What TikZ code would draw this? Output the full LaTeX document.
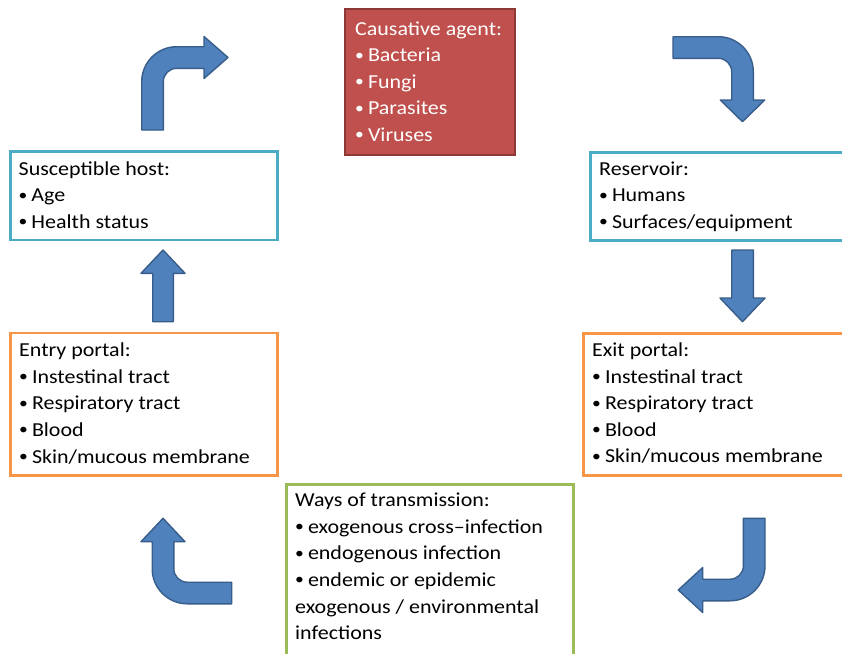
\documentclass[tikz,border=0pt]{standalone}
\usepackage{graphicx}
\usepackage{fontspec}
\setmainfont{Carlito}[FakeStretch=1.11]
\definecolor{arrowfill}{HTML}{4F81BD}
\definecolor{arrowline}{HTML}{385D8A}
\definecolor{blueline}{HTML}{4BACC6}
\definecolor{orangeline}{HTML}{F79646}
\definecolor{greenline}{HTML}{9BBB59}
\definecolor{redfill}{HTML}{C0504D}
\definecolor{redline}{HTML}{8C3836}
\newcommand{\bul}{\makebox[12.8pt][l]{\raisebox{1.6pt}{\scalebox{0.8}{•}}}}
\begin{document}
\begin{tikzpicture}[x=1pt,y=-1pt,
  box/.style={draw, line width=2.5pt, inner sep=0pt, anchor=north west},
  txt/.style={anchor=base west, inner sep=0pt, font=\fontsize{19.8}{26.6}\selectfont},
  blockarrow/.style={fill=arrowfill, draw=arrowline, line width=1.4pt, line join=round}]
\useasboundingbox (0,0) rectangle (842,653);
\clip (0,0) rectangle (842,653);
\fill[white] (0,0) rectangle (842,653);

% boxes
\node[box, fill=redfill, draw=redline, line width=2pt, minimum width=170pt, minimum height=146pt] (agent) at (344,8) {};
\node[box, draw=blueline, minimum width=267pt, minimum height=88.5pt] (host) at (9,150) {};
\node[box, draw=blueline, minimum width=270pt, minimum height=88pt] (reservoir) at (589,151) {};
\node[box, draw=orangeline, minimum width=267pt, minimum height=142.5pt] (entry) at (9,331.5) {};
\node[box, draw=orangeline, minimum width=270pt, minimum height=142pt] (exit) at (582,332) {};
\node[box, draw=greenline, minimum width=287pt, minimum height=190pt] (ways) at (285,483) {};

% texts
\node[txt, text=white] (agentt) at (355,35) {\begin{tabular}[t]{@{}l@{}}Causative agent:\\\bul Bacteria\\\bul Fungi\\\bul Parasites\\\bul Viruses\end{tabular}};
\node[txt] (hostt) at (18.5,175) {\begin{tabular}[t]{@{}l@{}}Susceptible host:\\\bul Age\\\bul Health status\end{tabular}};
\node[txt] (reservoirt) at (599,175) {\begin{tabular}[t]{@{}l@{}}Reservoir:\\\bul Humans\\\bul Surfaces/equipment\end{tabular}};
\node[txt] (entryt) at (19,356.7) {\begin{tabular}[t]{@{}l@{}}Entry portal:\\\bul Instestinal tract\\\bul Respiratory tract\\\bul Blood\\\bul Skin/mucous membrane\end{tabular}};
\node[txt] (exitt) at (592,356.5) {\begin{tabular}[t]{@{}l@{}}Exit portal:\\\bul Instestinal tract\\\bul Respiratory tract\\\bul Blood\\\bul Skin/mucous membrane\end{tabular}};
\node[txt] (wayst) at (295,506.7) {\begin{tabular}[t]{@{}l@{}}Ways of transmission:\\\bul exogenous cross–infection\\\bul endogenous infection\\\bul endemic or epidemic\\exogenous / environmental\\infections\end{tabular}};

% block arrows
\draw[blockarrow] (141.7,130) -- (141.7,81.7) arc[start angle=180,end angle=270,radius=35] -- (204,46.7) -- (204,36.5) -- (228,57.5) -- (204,78.5) -- (204,68.3) -- (176.7,68.3) arc[start angle=270,end angle=180,radius=13.4] -- (163.3,130) -- cycle;
\draw[blockarrow] (673,36.7) -- (718.3,36.7) arc[start angle=-90,end angle=0,radius=35] -- (753.3,100) -- (764.7,100) -- (742.5,121.7) -- (720.3,100) -- (731.7,100) -- (731.7,71.7) arc[start angle=0,end angle=-90,radius=13.4] -- (673,58.3) -- cycle;
\draw[blockarrow] (731.7,250) -- (753.3,250) -- (753.3,298) -- (765,298) -- (742.5,321.7) -- (720,298) -- (731.7,298) -- cycle;
\draw[blockarrow] (743.3,518.3) -- (765,518.3) -- (765,565.8) arc[start angle=0,end angle=90,radius=35] -- (702.7,600.8) -- (702.7,612.5) -- (678.3,590) -- (702.7,567.5) -- (702.7,579.2) -- (730,579.2) arc[start angle=90,end angle=0,radius=13.4] -- cycle;
\draw[blockarrow] (231.7,603.8) -- (187.2,603.8) arc[start angle=90,end angle=180,radius=35] -- (152.2,541.7) -- (141,541.7) -- (163,518.3) -- (185,541.7) -- (173.8,541.7) -- (173.8,568.8) arc[start angle=180,end angle=90,radius=13.4] -- (231.7,582.2) -- cycle;
\draw[blockarrow] (152.7,321.7) -- (152.7,273.3) -- (141,273.3) -- (163,250) -- (185,273.3) -- (173.3,273.3) -- (173.3,321.7) -- cycle;
\end{tikzpicture}
\end{document}
